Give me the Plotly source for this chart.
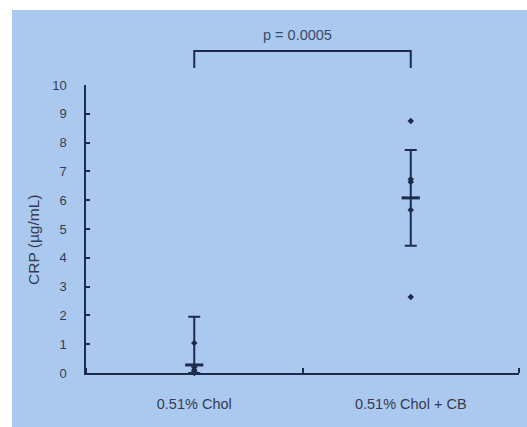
import plotly.graph_objects as go

categories = ["0.51% Chol", "0.51% Chol + CB"]
cat_pos = [0.5, 1.5]
chol_points = [1.04, 0.2, 0.1, 0.06, 0.0]
chol_cb_points = [8.75, 6.73, 6.63, 5.66, 2.64]
means = [0.28, 6.08]
err_plus = [1.67, 1.66]
err_minus = [0.28, 1.66]
y_ticks = list(range(0, 11))
p_label = "p = 0.0005"

W, H = 527, 427
ml, mr, mt, mb = 86, 8, 85, 54
pw, ph = W - ml - mr, H - mt - mb

def px_x(px):
    return (px - ml) / pw

def px_y(py):
    return (H - mb - py) / ph

ink = "#1d2b4c"
txt = "#363b52"
bg = "#abc9ee"
fig = go.Figure()

for pos, pts in zip(cat_pos, [chol_points, chol_cb_points]):
    fig.add_trace(go.Scatter(
        x=[pos] * len(pts), y=pts, mode="markers",
        marker=dict(symbol="diamond", size=5, color=ink),
        showlegend=False, cliponaxis=False))

fig.add_trace(go.Scatter(
    x=cat_pos, y=means, mode="markers",
    marker=dict(symbol="line-ew", size=13, line=dict(width=3, color=ink)),
    error_y=dict(type="data", array=err_plus, arrayminus=err_minus,
                 thickness=2, width=6, color=ink),
    showlegend=False, cliponaxis=False))

fig.update_layout(
    width=W, height=H,
    margin=dict(l=ml, r=mr, t=mt, b=mb),
    paper_bgcolor=bg, plot_bgcolor="rgba(0,0,0,0)",
    font=dict(family="Liberation Sans, Arial, sans-serif", color=txt),
    xaxis=dict(range=[0, 2], tickvals=cat_pos, ticktext=categories,
               ticks="", showgrid=False, zeroline=False,
               showline=True, linecolor=ink, linewidth=1.5,
               tickfont=dict(size=14.5, color=txt), ticklabelstandoff=17,
               minor=dict(tickvals=[0, 1, 2], ticks="inside", ticklen=5,
                          tickcolor=ink, tickwidth=1.5, showgrid=False)),
    yaxis=dict(range=[0, 10], tickvals=y_ticks, ticks="inside", ticklen=4,
               tickcolor=ink, tickwidth=1.5, showgrid=False, zeroline=False,
               showline=True, linecolor=ink, linewidth=1.5,
               tickfont=dict(size=13, color=txt), ticklabelstandoff=15),
    shapes=[
        dict(type="rect", xref="paper", yref="paper",
             x0=px_x(-2), x1=px_x(W + 2), y0=px_y(10), y1=px_y(-2),
             fillcolor="white", line=dict(width=0), layer="below"),
        dict(type="rect", xref="paper", yref="paper",
             x0=px_x(-2), x1=px_x(12), y0=px_y(H + 2), y1=px_y(-2),
             fillcolor="white", line=dict(width=0), layer="below"),
        dict(type="path", xref="x", yref="paper",
             path=f"M {cat_pos[0]},{px_y(68)} L {cat_pos[0]},{px_y(51)} L {cat_pos[1]},{px_y(51)} L {cat_pos[1]},{px_y(68)}",
             line=dict(color=ink, width=2)),
    ],
    annotations=[
        dict(text=p_label, xref="paper", yref="paper", x=px_x(297), y=px_y(35),
             xanchor="center", yanchor="middle",
             showarrow=False, font=dict(size=14.5, color="#3a4a6a")),
        dict(text="CRP (µg/mL)", xref="paper", yref="paper", x=px_x(33), y=px_y(240),
             xanchor="center", yanchor="middle",
             textangle=-90, showarrow=False, font=dict(size=15.5, color=txt)),
    ],
)

fig.write_html("out.html", config={"displayModeBar": False},
               post_script="document.body.style.margin='0';document.body.style.overflow='hidden';")
